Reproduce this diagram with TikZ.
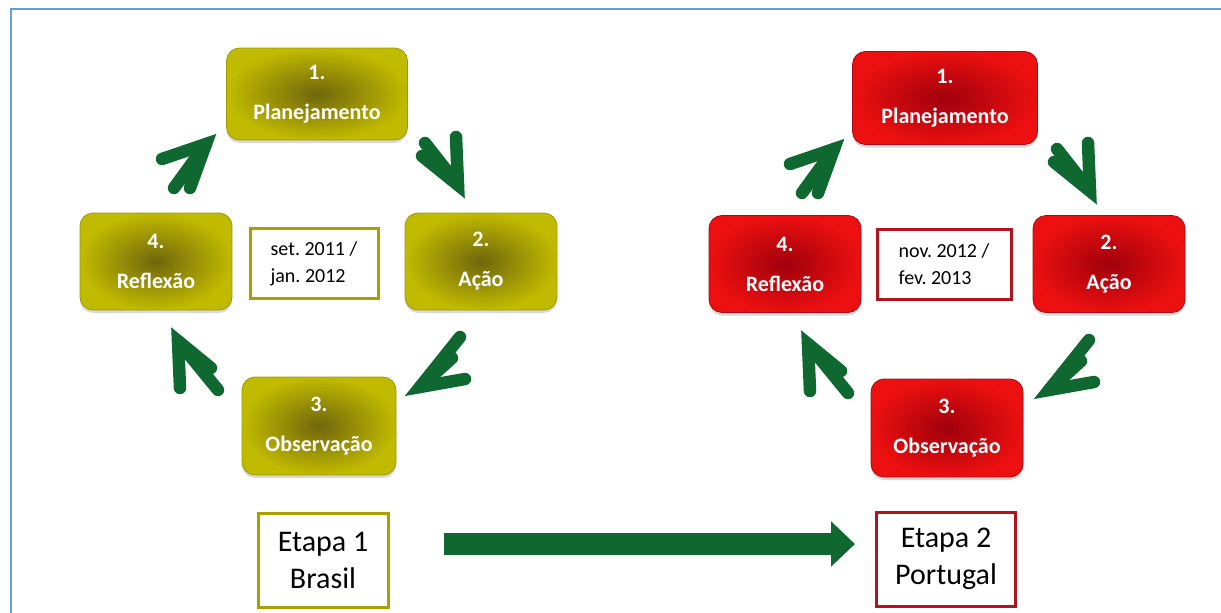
\documentclass[tikz,border=0pt]{standalone}
\usepackage{fontspec}
\setmainfont{Carlito}
\usetikzlibrary{shadows,arrows.meta,calc}
\definecolor{olvout}{RGB}{192,186,0}
\definecolor{olvin}{RGB}{112,102,12}
\definecolor{olvline}{RGB}{160,152,0}
\definecolor{olvframe}{RGB}{168,160,0}
\definecolor{redout}{RGB}{236,16,16}
\definecolor{redin}{RGB}{160,0,12}
\definecolor{redline}{RGB}{170,10,20}
\definecolor{redframe}{RGB}{178,20,30}
\definecolor{grn}{RGB}{14,104,48}
\definecolor{frameblue}{RGB}{104,154,226}
\newcommand\cycarrow[4]{%
  \begin{scope}[shift={#1}]
    \draw[glyph] #2 -- (0,0) -- #4;
    \draw[glyph] (0,0) -- #3;
  \end{scope}}
\frenchspacing
\begin{document}
\begin{tikzpicture}[x=1pt,y=-1pt,
  stage/.style={rounded corners=13pt, minimum width=152pt, minimum height=97pt,
    align=center, text=white, inner sep=0pt,
    font=\bfseries\fontsize{22}{40}\selectfont,
    drop shadow={shadow xshift=0pt, shadow yshift=-3pt, opacity=0.3}},
  olv/.style={stage, inner color=olvin, outer color=olvout, draw=olvline, line width=0.8pt},
  rd/.style={stage, inner color=redin, outer color=redout, draw=redline, line width=0.8pt},
  datebox/.style={draw, line width=3pt, fill=white, minimum height=70pt,
    align=left, inner sep=0pt, font=\fontsize{20}{27}\selectfont},
  etapa/.style={draw, line width=3pt, fill=white, minimum height=94pt,
    align=center, inner sep=0pt, font=\fontsize{30}{37}\selectfont},
  glyph/.style={draw=grn, line width=12.5pt, line cap=round, line join=miter},
  bigarrow/.style={draw=grn, line width=22pt, -{Triangle[length=24pt,width=44pt]}}
]
\useasboundingbox (0,0) rectangle (1221,613);
\draw[frameblue, line width=1.5pt] (11,613) -- (11,9) -- (1221,9);

% left cycle
\node[olv, minimum width=181pt, minimum height=92pt] (L1) at (317,94) {1.\\Planejamento};
\node[olv] (L4) at (156,261.5) {4.\\Reflexão};
\node[olv] (L2) at (481,261.5) {2.\\Ação};
\node[olv, minimum width=154pt, minimum height=98pt] (L3) at (319,426) {3.\\Observação};
\node[datebox, draw=olvframe, minimum width=128pt] (LD) at (314,263.5) {set. 2011 /\\jan. 2012};
\node[etapa, draw=olvframe, minimum width=130pt] (E1) at (323,560) {Etapa 1\\Brasil};

% right cycle
\node[rd, minimum width=185pt, minimum height=93pt] (R1) at (945,98) {1.\\Planejamento};
\node[rd] (R4) at (785,264) {4.\\Reflexão};
\node[rd] (R2) at (1109,264) {2.\\Ação};
\node[rd, minimum width=152pt, minimum height=98pt] (R3) at (947,428) {3.\\Observação};
\node[datebox, draw=redframe, minimum width=134pt] (RD) at (944,264) {nov. 2012 /\\fev. 2013};
\node[etapa, draw=redframe, minimum width=139pt] (E2) at (946,559) {Etapa 2\\Portugal};

% cycle arrows
\cycarrow{(206,144)}{(-44,15)}{(-32,44)}{(-16,44)}
\cycarrow{(458,185)}{(-2,-48)}{(-33,-42)}{(-36,-29)}
\cycarrow{(420,387)}{(40,-50)}{(32,-29)}{(45,-8)}
\cycarrow{(178,341)}{(2,47)}{(40,49)}{(33,27)}

\cycarrow{(834,149)}{(-44,15)}{(-32,44)}{(-16,44)}
\cycarrow{(1090,191)}{(-2,-48)}{(-33,-42)}{(-36,-29)}
\cycarrow{(1049,390)}{(40,-50)}{(32,-29)}{(45,-8)}
\cycarrow{(808,344)}{(2,47)}{(40,49)}{(33,27)}

% big arrow
\coordinate (ay) at (0,544);
\draw[bigarrow] ($(E1.east |- ay)+(54,0)$) -- ($(E2.west |- ay)+(-20,0)$);
\end{tikzpicture}
\end{document}
